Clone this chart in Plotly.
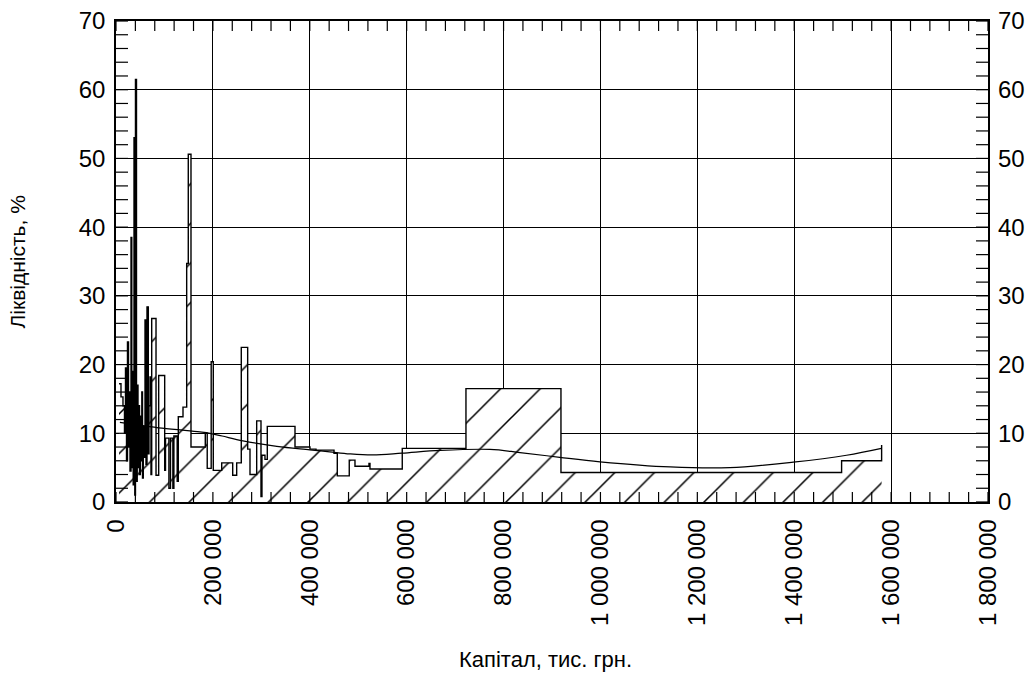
import plotly.graph_objects as go

# Capital, thousand UAH (step series, left edge of each step)
capital = [6.2, 10.3, 14.4, 17.5, 19.6, 21.7, 23.7, 25.8, 27.2, 28.9, 31.0, 32.6, 34.1, 35.5,
           37.2, 38.8, 40.2, 42.3, 43.8, 45.4, 47.1, 48.5, 50.2, 51.6, 53.3, 54.7, 56.3, 57.8,
           59.9, 61.9, 64.0, 66.7, 68.1, 70.2, 72.2, 73.7, 82.6, 88.1, 100.5, 102.2, 109.2,
           112.5, 117.4, 119.5, 126.3, 128.6, 138.3, 145.9, 149.2, 154.8, 184.3, 188.3, 196.5,
           200.8, 218.2, 240.9, 249.1, 258.6, 271.8, 276.6, 290.4, 299.3, 301.3, 307.5, 312.3,
           369.5, 400.4, 412.8, 450.0, 456.8, 481.5, 493.3, 522.2, 524.3, 590.9, 722.4, 918.5,
           1497.8, 1580.4]
capital = [c * 1000 for c in capital]
# Liquidity, %
liquidity = [17.2, 15.3, 14.0, 10.0, 19.5, 6.0, 23.3, 8.0, 16.0, 4.5, 38.5, 5.0, 19.0, 2.5,
             53.0, 1.0, 61.5, 3.0, 17.0, 5.0, 14.0, 4.0, 12.5, 6.0, 16.0, 3.5, 11.0, 6.5,
             26.5, 5.5, 28.4, 7.0, 14.0, 18.2, 4.0, 26.7, 3.9, 18.4, 4.6, 9.3, 2.0,
             9.3, 2.0, 9.6, 3.0, 12.4, 13.8, 34.7, 50.6, 8.0, 10.0, 4.9, 20.4,
             4.6, 5.7, 3.9, 5.7, 22.5, 7.7, 4.0, 11.8, 0.8, 6.8, 6.2, 11.0,
             8.0, 7.7, 7.55, 7.1, 3.8, 6.1, 5.2, 5.6, 4.8, 7.8, 16.5, 4.3,
             6.0, 8.3]

# Trend curve
trend_capital = [8, 95, 173, 194, 219, 262, 332, 400, 441, 483, 530, 590, 669, 772, 834,
                 916, 999, 1144, 1267, 1398, 1508, 1580]
trend_capital = [c * 1000 for c in trend_capital]
trend_liquidity = [11.6, 10.75, 10.2, 10.0, 9.6, 8.9, 8.1, 7.6, 7.3, 7.0, 6.85, 7.1, 7.5, 7.65,
                   7.2, 6.5, 5.85, 5.1, 5.0, 5.8, 6.8, 7.8]

x_tickvals = [0, 200000, 400000, 600000, 800000, 1000000, 1200000, 1400000, 1600000, 1800000]
x_ticktext = ["0", "200 000", "400 000", "600 000", "800 000", "1 000 000", "1 200 000",
              "1 400 000", "1 600 000", "1 800 000"]

x_title = "Капітал, тис. грн."
y_title = "Ліквідність, %"

X_MAX, Y_MAX = 1800000, 70
X_MINOR, Y_MINOR = 40000, 2

FONT = "Liberation Sans, Arial, sans-serif"
PLOT_W, PLOT_H = 1033 - 116 - 45, 678 - 21 - 176

fig = go.Figure()
fig.add_trace(go.Scatter(
    x=capital, y=liquidity, mode="lines",
    line=dict(shape="hv", color="black", width=1.4),
    fill="tozeroy", fillcolor="white",
    fillpattern=dict(shape="/", fgcolor="black", bgcolor="white", size=28, solidity=0.055,
                     fgopacity=1),
    showlegend=False, hoverinfo="skip"))
fig.add_trace(go.Scatter(
    x=trend_capital, y=trend_liquidity, mode="lines",
    line=dict(shape="spline", color="black", width=1.2),
    showlegend=False, hoverinfo="skip"))
fig.add_trace(go.Scatter(x=[None], y=[None], yaxis="y2", showlegend=False, hoverinfo="skip"))

# inside minor tick marks on all four sides (axis decoration, lengths in axis units)
x_tick_len = 10 / PLOT_H * Y_MAX      # 10 px, in y units
y_tick_len = 12 / PLOT_W * X_MAX      # 12 px, in x units
tx, ty = [], []
for v in range(0, X_MAX + 1, X_MINOR):
    tx += [v, v, None, v, v, None]
    ty += [0, x_tick_len, None, Y_MAX - x_tick_len, Y_MAX, None]
for v in range(0, Y_MAX + 1, Y_MINOR):
    tx += [0, y_tick_len, None, X_MAX - y_tick_len, X_MAX, None]
    ty += [v, v, None, v, v, None]
fig.add_trace(go.Scatter(x=tx, y=ty, mode="lines", line=dict(color="black", width=1.2),
                         connectgaps=False, cliponaxis=False,
                         showlegend=False, hoverinfo="skip"))

tickfont = dict(family=FONT, size=24, color="black")

fig.update_layout(
    width=1033, height=678,
    margin=dict(l=116, r=45, t=21, b=176, autoexpand=False),
    paper_bgcolor="white", plot_bgcolor="white",
    showlegend=False,
    xaxis=dict(
        range=[0, X_MAX], tickmode="array", tickvals=x_tickvals, ticktext=x_ticktext,
        tickangle=-90, tickfont=tickfont, ticks="",
        showline=True, linecolor="black", linewidth=1.5, mirror=True,
        showgrid=True, gridcolor="black", gridwidth=1, zeroline=False, automargin=False,
        ticklabelstandoff=6,
    ),
    yaxis=dict(
        range=[0, Y_MAX], tickmode="linear", tick0=0, dtick=10, tickfont=tickfont,
        ticks="", showline=True, linecolor="black", linewidth=1.5, mirror=True,
        showgrid=True, gridcolor="black", gridwidth=1, zeroline=False, automargin=False,
        ticklabelstandoff=4,
    ),
    yaxis2=dict(
        range=[0, Y_MAX], tickmode="linear", tick0=0, dtick=10, tickfont=tickfont,
        overlaying="y", side="right", showgrid=False, zeroline=False, ticks="",
        showline=False, automargin=False, ticklabelstandoff=9,
    ),
    annotations=[
        dict(text=y_title, xref="paper", yref="paper", x=-0.1124, y=0.5, showarrow=False,
             textangle=-90, xanchor="center", yanchor="middle",
             font=dict(family=FONT, size=21, color="black")),
        dict(text=x_title, xref="paper", yref="paper", x=0.492, y=-0.328, showarrow=False,
             xanchor="center", yanchor="middle",
             font=dict(family=FONT, size=22, color="black")),
    ],
)

fig.write_html("out.html")
